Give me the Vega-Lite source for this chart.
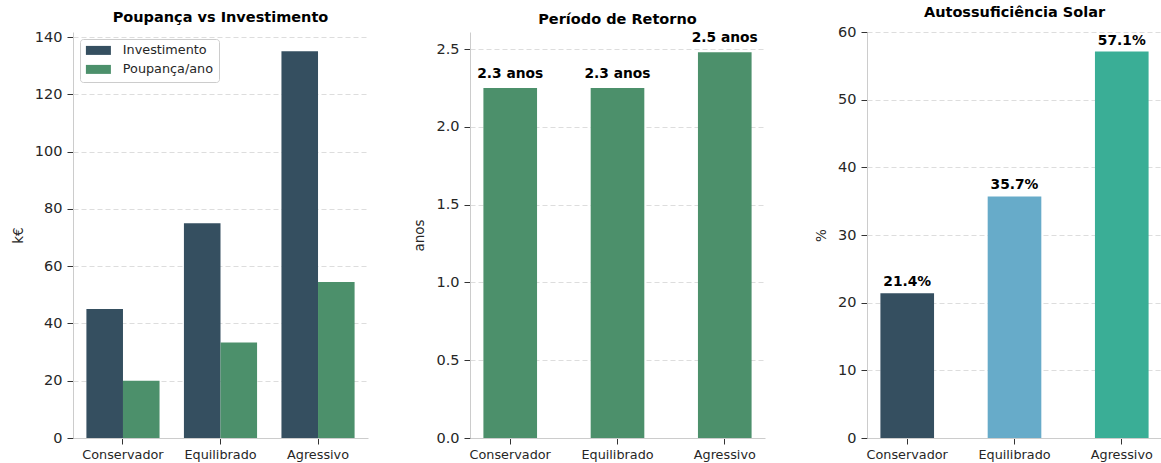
{
  "$schema": "https://vega.github.io/schema/vega-lite/v6.json",
  "autosize": {"type": "pad"},
  "padding": {"left": 11, "top": 4, "right": 0, "bottom": 0},
  "background": "white",
  "datasets": {
    "poup": [
      {"cenario": "Conservador", "serie": "Investimento", "valor": 45},
      {"cenario": "Conservador", "serie": "Poupança/ano", "valor": 20},
      {"cenario": "Equilibrado", "serie": "Investimento", "valor": 75},
      {"cenario": "Equilibrado", "serie": "Poupança/ano", "valor": 33.3},
      {"cenario": "Agressivo", "serie": "Investimento", "valor": 135},
      {"cenario": "Agressivo", "serie": "Poupança/ano", "valor": 54.5}
    ],
    "retorno": [
      {"cenario": "Conservador", "anos": 2.25, "label": "2.3 anos"},
      {"cenario": "Equilibrado", "anos": 2.25, "label": "2.3 anos"},
      {"cenario": "Agressivo", "anos": 2.48, "label": "2.5 anos"}
    ],
    "solar": [
      {"cenario": "Conservador", "pct": 21.4, "label": "21.4%"},
      {"cenario": "Equilibrado", "pct": 35.7, "label": "35.7%"},
      {"cenario": "Agressivo", "pct": 57.1, "label": "57.1%"}
    ]
  },
  "spacing": 102,
  "bounds": "flush",
  "hconcat": [
    {
      "width": 295,
      "height": 406,
      "title": "Poupança vs Investimento",
      "data": {"name": "poup"},
      "mark": {"type": "bar"},
      "encoding": {
        "x": {"field": "cenario", "type": "nominal", "sort": ["Conservador", "Equilibrado", "Agressivo"],
              "scale": {"paddingInner": 0.25, "paddingOuter": 0.1375},
              "axis": {"title": null, "labelAngle": 0}},
        "xOffset": {"field": "serie", "type": "nominal", "sort": ["Investimento", "Poupança/ano"],
                    "scale": {"paddingInner": 0, "paddingOuter": 0}},
        "y": {"field": "valor", "type": "quantitative",
              "scale": {"domain": [0, 141.75], "nice": false},
              "axis": {"title": "k€", "values": [0, 20, 40, 60, 80, 100, 120, 140]}},
        "color": {"field": "serie", "type": "nominal",
                  "scale": {"domain": ["Investimento", "Poupança/ano"], "range": ["#354f60", "#4c906b"]},
                  "legend": {"orient": "none", "legendX": 7, "legendY": 7, "title": null,
                             "fillColor": "white", "strokeColor": "#cccccc", "cornerRadius": 3,
                             "padding": 5, "symbolType": "M-2.5,-0.9H2.5V0.9H-2.5Z", "symbolSize": 100,
                             "symbolStrokeWidth": 0, "symbolOpacity": 1, "labelFontSize": 12.8, "labelColor": "#262626",
                             "rowPadding": 5, "labelOffset": 18, "symbolOffset": 7}}
      }
    },
    {
      "width": 295,
      "height": 406,
      "title": "Período de Retorno",
      "data": {"name": "retorno"},
      "encoding": {
        "x": {"field": "cenario", "type": "nominal", "sort": ["Conservador", "Equilibrado", "Agressivo"],
              "scale": {"paddingInner": 0.5, "paddingOuter": 0.125},
              "axis": {"title": null, "labelAngle": 0}},
        "y": {"field": "anos", "type": "quantitative",
              "scale": {"domain": [0, 2.61], "nice": false},
              "axis": {"title": "anos", "values": [0, 0.5, 1, 1.5, 2, 2.5], "format": ".1f"}}
      },
      "layer": [
        {"mark": {"type": "bar", "color": "#4c906b"}},
        {"mark": {"type": "text", "baseline": "alphabetic", "dy": -10, "fontWeight": "bold", "fontSize": 13.8, "color": "#000000"},
         "encoding": {"text": {"field": "label"}}}
      ]
    },
    {
      "width": 295,
      "height": 406,
      "title": "Autossuficiência Solar",
      "data": {"name": "solar"},
      "encoding": {
        "x": {"field": "cenario", "type": "nominal", "sort": ["Conservador", "Equilibrado", "Agressivo"],
              "scale": {"paddingInner": 0.5, "paddingOuter": 0.125},
              "axis": {"title": null, "labelAngle": 0}},
        "y": {"field": "pct", "type": "quantitative",
              "scale": {"domain": [0, 60], "nice": false},
              "axis": {"title": "%", "values": [0, 10, 20, 30, 40, 50, 60]}}
      },
      "layer": [
        {"mark": {"type": "bar"},
         "encoding": {"color": {"field": "cenario", "type": "nominal",
                                "scale": {"domain": ["Conservador", "Equilibrado", "Agressivo"], "range": ["#354f60", "#67abc9", "#3aae96"]},
                                "legend": null}}},
        {"mark": {"type": "text", "baseline": "alphabetic", "dy": -7, "fontWeight": "bold", "fontSize": 13.8, "color": "#000000"},
         "encoding": {"text": {"field": "label"}}}
      ]
    }
  ],
  "resolve": {"scale": {"color": "independent", "x": "independent", "y": "independent"}},
  "config": {
    "font": "DejaVu Sans",
    "view": {"stroke": null},
    "title": {"fontSize": 14.5, "fontWeight": "bold", "color": "#000000", "offset": 4, "font": "DejaVu Sans"},
    "axis": {"domainColor": "#cccccc", "tickColor": "#333333", "tickSize": 6, "labelColor": "#262626",
             "labelFont": "DejaVu Sans", "titleFont": "DejaVu Sans", "titleFontWeight": "normal",
             "titleFontSize": 13.5, "titleColor": "#262626", "labelPadding": 5},
    "axisX": {"grid": false, "labelFontSize": 12.8, "labelPadding": 4.5},
    "axisY": {"grid": true, "gridDash": [5, 3], "gridColor": "#dddddd", "labelFontSize": 14.5, "titlePadding": 9}
  }
}
